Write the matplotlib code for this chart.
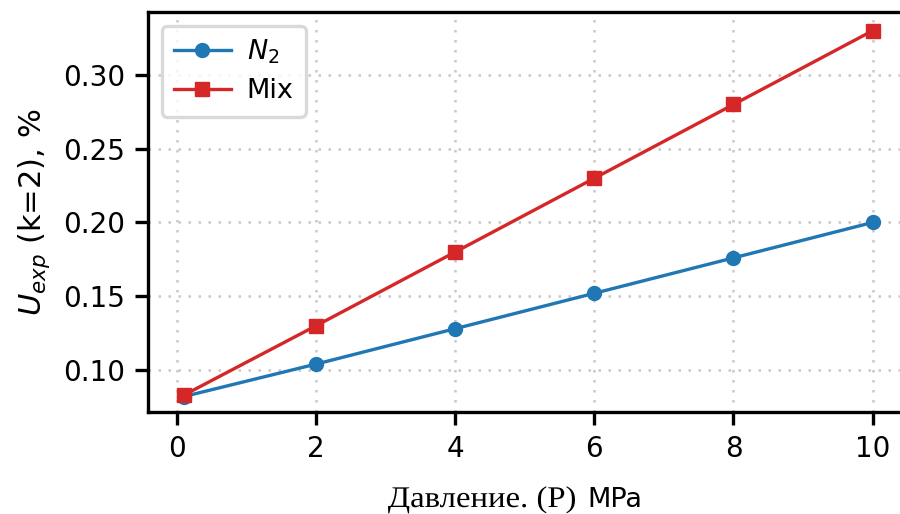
import matplotlib
matplotlib.use("Agg")
import matplotlib.pyplot as plt
from matplotlib.textpath import TextPath
from matplotlib.patches import PathPatch
from matplotlib.font_manager import FontProperties
from matplotlib.transforms import Affine2D

# pressure, MPa
pressure = [0.1, 2, 4, 6, 8, 10]
# expanded uncertainty (k=2), %
u_n2 = [0.082, 0.104, 0.128, 0.152, 0.176, 0.200]
u_mix = [0.083, 0.130, 0.180, 0.230, 0.280, 0.330]

plt.rcParams['font.family'] = ['DejaVu Sans']
plt.rcParams['font.size'] = 20

fig = plt.figure(figsize=(9, 5.14), dpi=100)
W, H = 900, 514
# the right spine falls just outside the cropped picture
ax = fig.add_axes([148 / W, (H - 412) / H, (906 - 148) / W, (412 - 12) / H])

ax.plot(pressure, u_n2, color='#1f77b4', marker='o', markersize=10, lw=2.4, label='$N_2$')
ax.plot(pressure, u_mix, color='#d62728', marker='s', markersize=10, lw=2.4, label='Mix')

ax.set_xlim(-0.417, 10.48)
ax.set_ylim(0.0715, 0.3427)
ax.set_xticks([0, 2, 4, 6, 8, 10])
ax.set_yticks([0.10, 0.15, 0.20, 0.25, 0.30])
ax.set_yticklabels(['0.10', '0.15', '0.20', '0.25', '0.30'])

ax.grid(True, linestyle=(0, (1, 3)), color='#c8c8c8', lw=1.8)
for s in ax.spines.values():
    s.set_linewidth(2.4)
ax.tick_params(length=9.5, width=2.4, pad=7)

ax.set_ylabel('$U_{exp}$ (k=2), %', fontsize=22, labelpad=8)

leg = ax.legend(loc='upper left', fontsize=19.5, frameon=True, borderpad=0.45,
                handlelength=2.1, handletextpad=0.6, labelspacing=0.45,
                bbox_to_anchor=(0.0, 1.0))
leg.get_frame().set_edgecolor('#d0d0d0')
leg.get_frame().set_linewidth(2.4)

# x label: condensed serif overlay from the document, unit in sans
tp = TextPath((0, 0), 'Давление. (P)', size=30,
              prop=FontProperties(family='Liberation Serif'))
ext = tp.get_extents()
sx = 187 / ext.width
x0 = 575 - ext.x1 * sx
tr = Affine2D().scale(sx / W, 1 / H).translate(x0 / W, (H - 507) / H) + fig.transFigure
fig.add_artist(PathPatch(tp, transform=tr, facecolor='black', edgecolor='none'))
fig.text(587 / W, (H - 507) / H, 'MPa', family='DejaVu Sans',
         fontsize=19.5, ha='left', va='baseline')

fig.savefig('out.png', dpi=100)
